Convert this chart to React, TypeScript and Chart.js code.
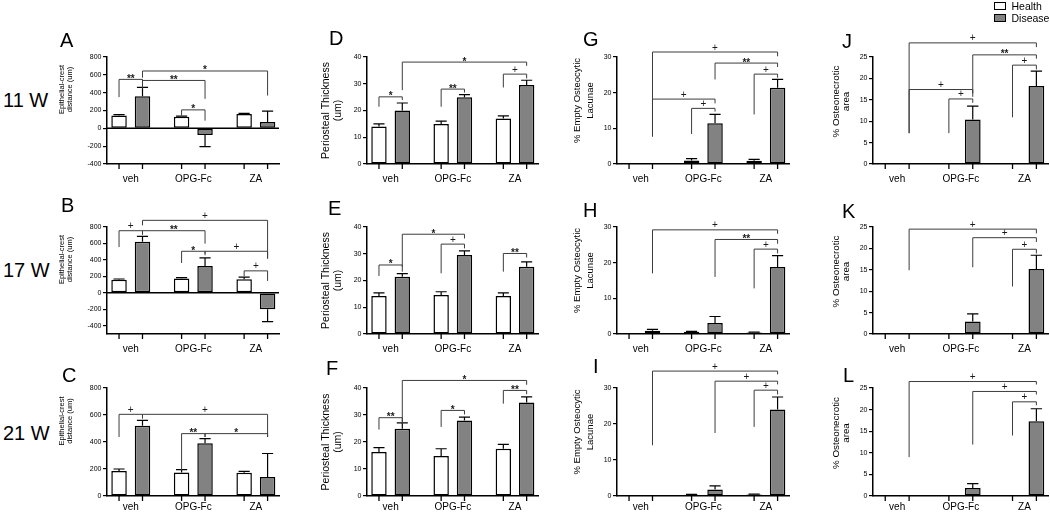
import React, { useEffect, useRef } from 'react';
import { Chart, registerables } from 'chart.js';

Chart.register(...registerables);

const FONT = '"Liberation Sans", Arial, Helvetica, sans-serif';

type Bracket = [number, number, number, number, number, number, number, string];

const categories = ['veh', 'OPG-Fc', 'ZA'];
const seriesNames = ['Health', 'Disease'];
const timeLabels = ['11 W', '17 W', '21 W'];

const titleEpithelial = ['Epithelial-crest', 'distance (um)'];
const titlePeriosteal = ['Periosteal Thickness', '(um)'];
const titleLacunae = ['% Empty Osteocytic', 'Lacunae'];
const titleNecrotic = ['% Osteonecrotic', 'area'];

const ticksCrest = [-400, -200, 0, 200, 400, 600, 800];
const ticksCrest21 = [0, 200, 400, 600, 800];
const ticksThickness = [0, 10, 20, 30, 40];
const ticksLacunae = [0, 10, 20, 30];
const ticksNecrotic = [0, 5, 10, 15, 20, 25];

// bracket: [group1, series1, group2, series2, level, leftLegEnd, rightLegEnd, label]

// A
const aHealth = [145, 130, 160];
const aHealthErr = [8, 8, 8];
const aDisease = [360, -75, 70];
const aDiseaseErr = [100, 130, 122];
const aSig: Bracket[] = [
  [0, 0, 0, 1, 549, 350, 444, '**'],
  [0, 1, 2, 1, 643, 568, 368, '*'],
  [0, 1, 1, 1, 537, 500, 331, '**'],
  [1, 0, 1, 1, 207, 143, 86, '*'],
];
// B
const bHealth = [160, 175, 165];
const bHealthErr = [8, 10, 25];
const bDisease = [620, 325, -200];
const bDiseaseErr = [65, 100, 150];
const bSig: Bracket[] = [
  [0, 0, 0, 1, 755, 557, 707, '+'],
  [0, 1, 2, 1, 881, 820, 416, '+'],
  [0, 1, 1, 1, 755, 707, 598, '**'],
  [1, 0, 1, 1, 505, 363, 457, '*'],
  [1, 1, 2, 1, 505, 477, 416, '+'],
  [2, 0, 2, 1, 267, 202, 145, '+'],
];
// C
const cHealth = [185, 175, 172];
const cHealthErr = [15, 20, 10];
const cDisease = [520, 390, 140];
const cDiseaseErr = [40, 35, 175];
const cSig: Bracket[] = [
  [0, 0, 0, 1, 605, 437, 573, '+'],
  [0, 1, 2, 1, 605, 580, 437, '+'],
  [1, 0, 1, 1, 462, 190, 437, '**'],
  [1, 1, 2, 1, 462, 437, 437, '*'],
];
// D
const dHealth = [14, 15, 17];
const dHealthErr = [1, 1, 1];
const dDisease = [20, 25, 29.5];
const dDiseaseErr = [2.8, 0.9, 1.8];
const dSig: Bracket[] = [
  [0, 0, 0, 1, 25.1, 21.4, 23.9, '*'],
  [0, 1, 2, 1, 38.1, 27.6, 36.7, '*'],
  [1, 0, 1, 1, 28, 21.4, 26.7, '**'],
  [2, 0, 2, 1, 33.6, 28.6, 32, '+'],
];
// E
const eHealth = [14.2, 14.6, 14.2];
const eHealthErr = [1.2, 1.2, 1.2];
const eDisease = [21.4, 29.5, 25.1];
const eDiseaseErr = [1.2, 1.6, 1.9];
const eSig: Bracket[] = [
  [0, 0, 0, 1, 25.8, 21.7, 23.3, '*'],
  [0, 1, 1, 1, 37.3, 25.1, 35.7, '*'],
  [1, 0, 1, 1, 33.6, 22.7, 32, '+'],
  [2, 0, 2, 1, 30.1, 23.3, 28.6, '**'],
];
// F
const fHealth = [16.3, 14.8, 17.5];
const fHealthErr = [1.6, 2.7, 1.6];
const fDisease = [24.9, 28, 34.6];
const fDiseaseErr = [2.2, 1.2, 2.1];
const fSig: Bracket[] = [
  [0, 0, 0, 1, 29, 24.6, 26.8, '**'],
  [0, 1, 2, 1, 42.8, 26.8, 41.2, '*'],
  [1, 0, 1, 1, 31.7, 25.6, 30.2, '*'],
  [2, 0, 2, 1, 39.1, 34.2, 37.7, '**'],
];
// G
const gHealth = [0, 1.0, 0.9];
const gHealthErr = [0, 0.5, 0.4];
const gDisease = [0, 11.4, 21.4];
const gDiseaseErr = [0, 2.5, 2.3];
const gSig: Bracket[] = [
  [0, 1, 2, 1, 31.4, 7.7, 30.2, '+'],
  [1, 1, 2, 1, 28.3, 23.7, 27.2, '**'],
  [2, 0, 2, 1, 25.2, 13.9, 24.2, '+'],
  [0, 1, 1, 1, 18.2, 7.7, 17, '+'],
  [1, 0, 1, 1, 15.6, 8.4, 14.7, '+'],
];
// H
const hHealth = [0, 0.6, 0.4];
const hHealthErr = [0, 0.15, 0.1];
const hDisease = [0.9, 3.1, 18.8];
const hDiseaseErr = [0.4, 1.8, 3.2];
const hSig: Bracket[] = [
  [0, 1, 2, 1, 29.2, 17, 28.1, '+'],
  [1, 1, 2, 1, 26.5, 16, 25.3, '**'],
  [2, 0, 2, 1, 23.8, 12.8, 22.6, '+'],
];
// I
const iHealth = [0, 0.37, 0.4];
const iHealthErr = [0, 0.1, 0.1];
const iDisease = [0, 1.8, 24];
const iDiseaseErr = [0, 1, 3.5];
const iSig: Bracket[] = [
  [0, 1, 2, 1, 34.7, 14.1, 33.8, '+'],
  [1, 1, 2, 1, 31.9, 17.5, 31, '+'],
  [2, 0, 2, 1, 29.4, 19.2, 28.2, '+'],
];
// J
const jHealth = [0, 0, 0];
const jHealthErr = [0, 0, 0];
const jDisease = [0, 10.4, 18.2];
const jDiseaseErr = [0, 3.1, 3.5];
const jSig: Bracket[] = [
  [0, 1, 2, 1, 28.3, 7.2, 27.3, '+'],
  [1, 1, 2, 1, 25.5, 15.7, 24.6, '**'],
  [2, 0, 2, 1, 23.1, 10.9, 22.1, '+'],
  [0, 1, 1, 1, 17.4, 7.2, 16.5, '+'],
  [1, 0, 1, 1, 15.2, 7.2, 14.3, '+'],
];
// K
const kHealth = [0, 0, 0];
const kHealthErr = [0, 0, 0];
const kDisease = [0, 2.9, 15.2];
const kDiseaseErr = [0, 1.8, 3.2];
const kSig: Bracket[] = [
  [0, 1, 2, 1, 24.5, 14.9, 23.5, '+'],
  [1, 1, 2, 1, 22.5, 15.6, 21.5, '+'],
  [2, 0, 2, 1, 19.8, 11.1, 18.8, '+'],
];
// L
const lHealth = [0, 0, 0.2];
const lHealthErr = [0, 0, 0];
const lDisease = [0, 1.85, 17.3];
const lDiseaseErr = [0, 1, 2.9];
const lSig: Bracket[] = [
  [0, 1, 2, 1, 26.5, 9, 25.8, '+'],
  [1, 1, 2, 1, 24.2, 11.9, 23.5, '+'],
  [2, 0, 2, 1, 21.8, 14, 21, '+'],
];

const panels = [
  { id: 'A', row: 0, col: 0, title: titleEpithelial, min: -400, max: 800, ticks: ticksCrest, health: aHealth, healthErr: aHealthErr, disease: aDisease, diseaseErr: aDiseaseErr, sig: aSig },
  { id: 'B', row: 1, col: 0, title: titleEpithelial, min: -500, max: 800, ticks: ticksCrest, health: bHealth, healthErr: bHealthErr, disease: bDisease, diseaseErr: bDiseaseErr, sig: bSig },
  { id: 'C', row: 2, col: 0, title: titleEpithelial, min: 0, max: 800, ticks: ticksCrest21, health: cHealth, healthErr: cHealthErr, disease: cDisease, diseaseErr: cDiseaseErr, sig: cSig },
  { id: 'D', row: 0, col: 1, title: titlePeriosteal, min: 0, max: 40, ticks: ticksThickness, health: dHealth, healthErr: dHealthErr, disease: dDisease, diseaseErr: dDiseaseErr, sig: dSig },
  { id: 'E', row: 1, col: 1, title: titlePeriosteal, min: 0, max: 40, ticks: ticksThickness, health: eHealth, healthErr: eHealthErr, disease: eDisease, diseaseErr: eDiseaseErr, sig: eSig },
  { id: 'F', row: 2, col: 1, title: titlePeriosteal, min: 0, max: 40, ticks: ticksThickness, health: fHealth, healthErr: fHealthErr, disease: fDisease, diseaseErr: fDiseaseErr, sig: fSig },
  { id: 'G', row: 0, col: 2, title: titleLacunae, min: 0, max: 30, ticks: ticksLacunae, health: gHealth, healthErr: gHealthErr, disease: gDisease, diseaseErr: gDiseaseErr, sig: gSig },
  { id: 'H', row: 1, col: 2, title: titleLacunae, min: 0, max: 30, ticks: ticksLacunae, health: hHealth, healthErr: hHealthErr, disease: hDisease, diseaseErr: hDiseaseErr, sig: hSig },
  { id: 'I', row: 2, col: 2, title: titleLacunae, min: 0, max: 30, ticks: ticksLacunae, health: iHealth, healthErr: iHealthErr, disease: iDisease, diseaseErr: iDiseaseErr, sig: iSig },
  { id: 'J', row: 0, col: 3, title: titleNecrotic, min: 0, max: 25, ticks: ticksNecrotic, health: jHealth, healthErr: jHealthErr, disease: jDisease, diseaseErr: jDiseaseErr, sig: jSig },
  { id: 'K', row: 1, col: 3, title: titleNecrotic, min: 0, max: 25, ticks: ticksNecrotic, health: kHealth, healthErr: kHealthErr, disease: kDisease, diseaseErr: kDiseaseErr, sig: kSig },
  { id: 'L', row: 2, col: 3, title: titleNecrotic, min: 0, max: 25, ticks: ticksNecrotic, health: lHealth, healthErr: lHealthErr, disease: lDisease, diseaseErr: lDiseaseErr, sig: lSig },
];

// ---------- layout (positions / styles) ----------
const colLayout = [
  { left: 50, width: 240, axisX: 107, right: 279, titleSize: 7.5, titleDx: [-45, -37], titleDy: -21 },
  { left: 295, width: 250, axisX: 367, right: 538, titleSize: 10.5, titleDx: [-40.5, -28.5], titleDy: 0 },
  { left: 555, width: 240, axisX: 617, right: 789, titleSize: 9.5, titleDx: [-40, -27], titleDy: -10 },
  { left: 815, width: 235, axisX: 873, right: 1048, titleSize: 9.8, titleDx: [-36.5, -26.5], titleDy: -9 },
];
const rowLayout = [
  { top: 15, height: 180, plotTop: 57, plotBottom: 164, xPad: 9.5 },
  { top: 185, height: 180, plotTop: 227, plotBottom: 334, xPad: 9 },
  { top: 345, height: 171, plotTop: 388, plotBottom: 496, xPad: 5.5 },
];
const Y_AXIS_W = 34;
const X_MIN = -0.38;
const X_MAX = 2.37;

const letterPos: Record<string, [number, number]> = {
  A: [60, 46.7], B: [61, 211.7], C: [62, 381.7],
  D: [329, 45], E: [328, 215], F: [326, 375],
  G: [583, 45.5], H: [583, 216.7], I: [593, 373.3],
  J: [842, 48], K: [842, 218.3], L: [843, 381.7],
};
const timePos: [number, number][] = [[3, 106.7], [3, 276.7], [3, 440]];

const HEALTH_FILL = '#ffffff';
const DISEASE_FILL = '#828282';

function makeDecor(p: any) {
  const cl = colLayout[p.col];
  return {
    id: 'decor' + p.id,
    afterDatasetsDraw(chart: any) {
      const ctx: CanvasRenderingContext2D = chart.ctx;
      const area = chart.chartArea;
      const ys = chart.scales.y;
      const metas = [chart.getDatasetMeta(0), chart.getDatasetMeta(1)];
      const vals = [p.health, p.disease];
      const errs = [p.healthErr, p.diseaseErr];
      ctx.save();
      // zero line
      if (ys.min < 0) {
        const y0 = ys.getPixelForValue(0);
        ctx.strokeStyle = '#000';
        ctx.lineWidth = 1.5;
        ctx.beginPath();
        ctx.moveTo(area.left, y0);
        ctx.lineTo(area.right, y0);
        ctx.stroke();
      }
      // x tick marks under each bar
      ctx.strokeStyle = '#000';
      ctx.lineWidth = 1.3;
      metas.forEach((m: any) =>
        m.data.forEach((el: any) => {
          ctx.beginPath();
          ctx.moveTo(el.x, area.bottom);
          ctx.lineTo(el.x, area.bottom + 5);
          ctx.stroke();
        })
      );
      // error bars
      ctx.lineWidth = 1.2;
      metas.forEach((m: any, s: number) =>
        m.data.forEach((el: any, i: number) => {
          const e = errs[s][i];
          const v = vals[s][i];
          if (!e) return;
          const dir = v < 0 ? -1 : 1;
          const y1 = ys.getPixelForValue(v);
          const y2 = ys.getPixelForValue(v + dir * e);
          const half = el.width * 0.36;
          ctx.beginPath();
          ctx.moveTo(el.x, y1);
          ctx.lineTo(el.x, y2);
          ctx.moveTo(el.x - half, y2);
          ctx.lineTo(el.x + half, y2);
          ctx.stroke();
        })
      );
      // significance brackets
      ctx.strokeStyle = '#3c3c3c';
      ctx.lineWidth = 1;
      ctx.fillStyle = '#1a1a1a';
      ctx.textAlign = 'center';
      ctx.textBaseline = 'alphabetic';
      p.sig.forEach((b: Bracket) => {
        const [g1, s1, g2, s2, lv, yl, yr, label] = b;
        const x1 = metas[s1].data[g1].x;
        const x2 = metas[s2].data[g2].x;
        const yh = ys.getPixelForValue(lv);
        const ya = ys.getPixelForValue(yl);
        const yb = ys.getPixelForValue(yr);
        ctx.beginPath();
        ctx.moveTo(x1, ya);
        ctx.lineTo(x1, yh);
        ctx.lineTo(x2, yh);
        ctx.lineTo(x2, yb);
        ctx.stroke();
        const isStar = label.indexOf('*') >= 0;
        ctx.font = `${isStar ? 'bold 10px' : '10px'} ${FONT}`;
        ctx.fillText(label, (x1 + x2) / 2, yh + (isStar ? 2.5 : -1.5));
      });
      // y title
      ctx.fillStyle = '#000';
      ctx.font = `${cl.titleSize}px ${FONT}`;
      ctx.textAlign = 'center';
      ctx.textBaseline = 'middle';
      const cy = (area.top + area.bottom) / 2 + cl.titleDy;
      p.title.forEach((t: string, k: number) => {
        ctx.save();
        ctx.translate(area.left + cl.titleDx[k], cy);
        ctx.rotate(-Math.PI / 2);
        ctx.fillText(t, 0, 0);
        ctx.restore();
      });
      ctx.restore();
    },
  };
}

function Panel({ p }: { p: any }) {
  const ref = useRef<HTMLCanvasElement>(null);
  const cl = colLayout[p.col];
  const rl = rowLayout[p.row];
  useEffect(() => {
    const xH = rl.top + rl.height - rl.plotBottom;
    const barCommon = {
      borderColor: '#000',
      borderWidth: 1.5,
      borderSkipped: false,
      categoryPercentage: 0.75,
      barPercentage: 0.66,
    };
    const chart = new Chart(ref.current as HTMLCanvasElement, {
      type: 'bar',
      data: {
        labels: categories.map((_, i) => i),
        datasets: [
          { label: seriesNames[0], data: p.health, backgroundColor: HEALTH_FILL, ...barCommon },
          { label: seriesNames[1], data: p.disease, backgroundColor: DISEASE_FILL, ...barCommon },
        ],
      } as any,
      options: {
        animation: false,
        responsive: false,
        devicePixelRatio: 1,
        layout: {
          padding: {
            left: cl.axisX - cl.left - Y_AXIS_W,
            right: cl.left + cl.width - cl.right,
            top: rl.plotTop - rl.top,
            bottom: 0,
          },
        },
        plugins: { legend: { display: false }, tooltip: { enabled: false } },
        scales: {
          x: {
            type: 'linear',
            min: X_MIN,
            max: X_MAX,
            offset: false,
            grid: { display: false, drawTicks: false, offset: false },
            border: { display: true, color: '#000', width: 1.5 },
            ticks: {
              color: '#000',
              font: { family: FONT, size: 10 },
              padding: rl.xPad,
              autoSkip: false,
              maxRotation: 0,
              callback: (v: any) => categories[v] ?? '',
            },
            afterBuildTicks: (s: any) => {
              s.ticks = categories.map((_, i) => ({ value: i }));
            },
            afterFit: (s: any) => {
              s.height = xH;
            },
          },
          y: {
            min: p.min,
            max: p.max,
            grid: { drawOnChartArea: false, drawTicks: true, tickLength: 4, color: '#000', lineWidth: 1.2 },
            border: { display: true, color: '#000', width: 1.5 },
            ticks: { color: '#000', font: { family: FONT, size: 7 }, padding: 1.5 },
            afterBuildTicks: (s: any) => {
              s.ticks = p.ticks.map((v: number) => ({ value: v }));
            },
            afterFit: (s: any) => {
              s.width = Y_AXIS_W;
            },
          },
        },
      } as any,
      plugins: [makeDecor(p)],
    });
    return () => chart.destroy();
  }, []);
  return (
    <canvas
      ref={ref}
      width={cl.width}
      height={rl.height}
      style={{ position: 'absolute', left: cl.left, top: rl.top, width: cl.width, height: rl.height }}
    />
  );
}

function TextAt({ x, baseline, size, children }: { x: number; baseline: number; size: number; children: any }) {
  return (
    <div
      style={{
        position: 'absolute',
        left: x,
        top: baseline - 0.8465 * size,
        fontSize: size,
        lineHeight: `${size}px`,
        fontFamily: FONT,
        color: '#000',
        whiteSpace: 'nowrap',
      }}
    >
      {children}
    </div>
  );
}

export default function App() {
  return (
    <div style={{ position: 'absolute', left: 0, top: 0, width: 1050, height: 516, background: '#fff', overflow: 'hidden' }}>
      {panels.map((p) => (
        <Panel key={p.id} p={p} />
      ))}
      {panels.map((p) => (
        <TextAt key={'l' + p.id} x={letterPos[p.id][0]} baseline={letterPos[p.id][1]} size={20}>
          {p.id}
        </TextAt>
      ))}
      {timeLabels.map((t, i) => (
        <TextAt key={t} x={timePos[i][0]} baseline={timePos[i][1]} size={20}>
          {t}
        </TextAt>
      ))}
      {seriesNames.map((s, i) => (
        <React.Fragment key={s}>
          <div
            style={{
              position: 'absolute',
              left: 994,
              top: 1.5 + i * 12,
              width: 10,
              height: 6.5,
              border: '1.5px solid #000',
              background: i === 0 ? HEALTH_FILL : DISEASE_FILL,
            }}
          />
          <TextAt x={1011.5} baseline={9.6 + i * 12.2} size={10.5}>
            {s}
          </TextAt>
        </React.Fragment>
      ))}
    </div>
  );
}
